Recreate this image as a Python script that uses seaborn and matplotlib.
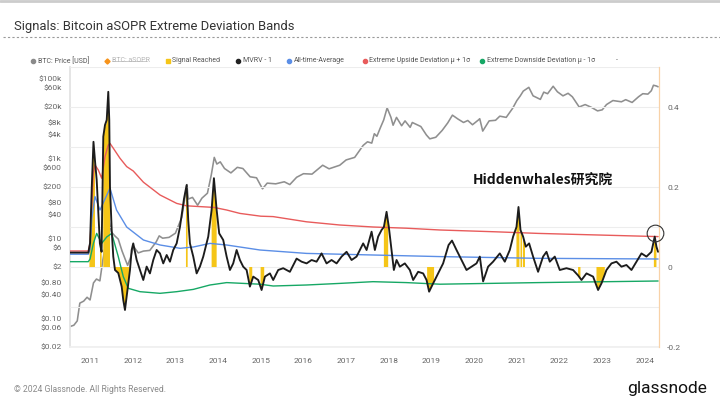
import numpy as np
import matplotlib
matplotlib.use("Agg")
import matplotlib.pyplot as plt
from matplotlib.lines import Line2D
import seaborn as sns

# ---- data (x in decimal years) ----
price_t = [2010.53, 2010.62, 2010.70, 2010.76, 2010.85, 2010.93, 2011.00, 2011.08, 2011.15, 2011.23,
           2011.30, 2011.37, 2011.44, 2011.50, 2011.58, 2011.66, 2011.75, 2011.83, 2011.88, 2011.95,
           2012.02, 2012.13, 2012.25, 2012.40, 2012.55, 2012.62, 2012.70, 2012.85, 2013.00, 2013.15,
           2013.27, 2013.30, 2013.40, 2013.52, 2013.62, 2013.75, 2013.84, 2013.91, 2013.97, 2014.05,
           2014.15, 2014.30, 2014.45, 2014.58, 2014.75, 2014.90, 2015.04, 2015.15, 2015.35, 2015.55,
           2015.68, 2015.84, 2016.00, 2016.20, 2016.45, 2016.60, 2016.85, 2017.00, 2017.20, 2017.40,
           2017.50, 2017.60, 2017.66, 2017.72, 2017.80, 2017.88, 2017.96, 2018.05, 2018.10, 2018.18,
           2018.30, 2018.38, 2018.50, 2018.55, 2018.75, 2018.88, 2018.96, 2019.10, 2019.25, 2019.38,
           2019.49, 2019.62, 2019.75, 2019.85, 2019.96, 2020.10, 2020.13, 2020.20, 2020.35, 2020.50,
           2020.60, 2020.75, 2020.90, 2021.00, 2021.08, 2021.15, 2021.28, 2021.38, 2021.45, 2021.55,
           2021.63, 2021.72, 2021.85, 2021.95, 2022.08, 2022.20, 2022.30, 2022.46, 2022.60, 2022.75,
           2022.89, 2023.00, 2023.10, 2023.25, 2023.45, 2023.55, 2023.70, 2023.85, 2023.95, 2024.07,
           2024.15, 2024.20, 2024.27, 2024.31]
price_usd = [0.065, 0.07, 0.09, 0.25, 0.28, 0.35, 0.30, 0.80, 1.0, 0.9,
             3, 8, 30, 15, 12, 10, 5, 3, 2.2, 3.5,
             6.5, 4.5, 5, 5.2, 8.5, 12, 10.5, 11, 14, 35,
             230, 100, 110, 70, 105, 140, 400, 1100, 750, 850,
             580, 450, 620, 580, 360, 340, 180, 250, 240, 270,
             230, 350, 430, 420, 700, 570, 700, 950, 1100, 2200,
             2700, 2500, 4300, 3700, 6000, 9500, 19000, 11000, 7000, 11000,
             6800, 9000, 6200, 8200, 6500, 4000, 3200, 3500, 5200, 8000,
             12500, 10000, 8200, 9200, 7200, 9500, 10200, 5000, 9000, 9300,
             11800, 11000, 18500, 29000, 38000, 50000, 62000, 38000, 35000, 31000,
             47000, 43000, 66000, 48000, 38000, 44000, 36000, 20000, 23000, 19500,
             16000, 17000, 23000, 29000, 27000, 30500, 26000, 36000, 43000, 42000,
             51000, 70000, 67000, 64000]

mvrv_t = [2010.53, 2010.96, 2011.00, 2011.04, 2011.08, 2011.12, 2011.155, 2011.19, 2011.23, 2011.27,
          2011.31, 2011.35, 2011.39, 2011.427, 2011.45, 2011.467, 2011.507, 2011.544, 2011.584, 2011.661,
          2011.741, 2011.778, 2011.818, 2011.858, 2011.895, 2011.935, 2011.975, 2012.012, 2012.092, 2012.169,
          2012.247, 2012.326, 2012.403, 2012.481, 2012.56, 2012.638, 2012.715, 2012.795, 2012.872, 2012.949,
          2013.029, 2013.106, 2013.2, 2013.263, 2013.3, 2013.34, 2013.418, 2013.497, 2013.574, 2013.652,
          2013.769, 2013.848, 2013.902, 2013.966, 2014.026, 2014.12, 2014.2, 2014.277, 2014.354, 2014.434,
          2014.511, 2014.588, 2014.668, 2014.745, 2014.823, 2014.94, 2015.019, 2015.097, 2015.214, 2015.291,
          2015.408, 2015.525, 2015.682, 2015.839, 2015.956, 2016.073, 2016.19, 2016.307, 2016.424, 2016.541,
          2016.658, 2016.776, 2016.893, 2017.01, 2017.127, 2017.244, 2017.399, 2017.479, 2017.596, 2017.673,
          2017.75, 2017.83, 2017.884, 2017.947, 2018.0, 2018.064, 2018.118, 2018.181, 2018.258, 2018.375,
          2018.492, 2018.57, 2018.687, 2018.804, 2018.884, 2018.944, 2019.038, 2019.155, 2019.272, 2019.40,
          2019.48, 2019.586, 2019.703, 2019.82, 2019.937, 2020.054, 2020.132, 2020.209, 2020.326, 2020.443,
          2020.6, 2020.717, 2020.834, 2020.912, 2020.991, 2021.038, 2021.085, 2021.146, 2021.209, 2021.287,
          2021.38, 2021.497, 2021.614, 2021.694, 2021.771, 2021.888, 2022.005, 2022.162, 2022.317, 2022.434,
          2022.514, 2022.631, 2022.786, 2022.903, 2022.982, 2023.099, 2023.216, 2023.333, 2023.45, 2023.567,
          2023.685, 2023.802, 2023.919, 2024.036, 2024.153, 2024.23, 2024.27, 2024.308]
mvrv_minus_1 = [0.036, 0.036, 0.06, 0.2, 0.313, 0.26, 0.218, 0.1425, 0.059, 0.038,
                0.326, 0.355, 0.3675, 0.438, 0.3675, 0.2, 0.0925, 0.026, -0.0075, -0.015,
                -0.049, -0.0825, -0.1075, -0.074, -0.041, -0.0075, 0.0425, 0.059, 0.0175, -0.0075,
                -0.0325, 0.001, -0.016, 0.0175, 0.0425, 0.034, 0.009, 0.03, 0.0133, 0.0425,
                0.059, 0.1, 0.17, 0.205, 0.1175, 0.059, 0.026, -0.016, 0.001, 0.026,
                0.076, 0.1425, 0.222, 0.1425, 0.084, 0.0675, 0.026, -0.0075, 0.009, 0.0425,
                0.0175, 0.0008, -0.0075, -0.049, -0.024, -0.0325, -0.0575, -0.024, -0.016, -0.0325,
                -0.0075, -0.003, -0.012, 0.021, 0.0133, 0.009, 0.0175, 0.0133, 0.034, 0.009,
                0.0175, 0.009, 0.026, 0.038, 0.0175, 0.026, 0.059, 0.0425, 0.0883, 0.0425,
                0.076, 0.0925, 0.1, 0.138, 0.1, 0.0425, -0.0075, 0.0175, 0.0008, 0.009,
                -0.0075, -0.0325, -0.012, -0.016, -0.0325, -0.0617, -0.041, -0.016, 0.009, 0.055,
                0.066, 0.0425, 0.0175, -0.0075, 0.0008, 0.009, 0.026, -0.036, 0.0008, 0.0133,
                0.034, 0.0133, 0.0425, 0.076, 0.1, 0.15, 0.0925, 0.076, 0.0508, 0.059,
                0.026, -0.012, 0.026, 0.038, 0.0133, 0.026, -0.0075, -0.003, -0.0075, -0.021,
                -0.0325, -0.016, -0.024, -0.0575, -0.041, -0.0075, 0.009, 0.0133, 0.0008, 0.005,
                -0.0075, 0.0133, 0.034, 0.026, 0.038, 0.076, 0.0508, 0.038]

upper_t = [2010.53, 2010.96, 2011.00, 2011.04, 2011.076, 2011.115, 2011.193, 2011.272, 2011.35, 2011.427,
           2011.467, 2011.544, 2011.70, 2011.858, 2012.012, 2012.25, 2012.64, 2013.03, 2013.26, 2013.57,
           2013.90, 2014.20, 2014.51, 2015.00, 2015.29, 2016.07, 2016.85, 2017.63, 2018.41, 2019.20,
           2020.50, 2021.50, 2024.31]
upper_band = [0.040, 0.040, 0.060, 0.150, 0.234, 0.255, 0.2425, 0.222, 0.276, 0.305,
              0.309, 0.297, 0.272, 0.251, 0.240, 0.212, 0.180, 0.159, 0.153, 0.151,
              0.149, 0.1425, 0.134, 0.127, 0.126, 0.113, 0.105, 0.100, 0.097, 0.0925,
              0.088, 0.084, 0.076]

avg_t = [2010.53, 2010.96, 2011.00, 2011.04, 2011.115, 2011.233, 2011.35, 2011.467, 2011.62, 2011.858,
         2012.25, 2012.64, 2013.11, 2013.42, 2013.81, 2014.20, 2014.98, 2016.07, 2017.63, 2019.20,
         2021.50, 2024.31]
avg_line = [0.032, 0.032, 0.045, 0.12, 0.176, 0.1425, 0.17, 0.197, 0.1425, 0.100,
            0.0675, 0.055, 0.0467, 0.050, 0.059, 0.055, 0.0425, 0.034, 0.030, 0.026,
            0.0217, 0.020]

lower_t = [2010.53, 2010.96, 2011.00, 2011.08, 2011.155, 2011.272, 2011.39, 2011.507, 2011.661, 2011.778,
           2011.895, 2012.169, 2012.638, 2013.029, 2013.418, 2013.808, 2014.2, 2014.98, 2015.29, 2016.07,
           2016.85, 2017.63, 2018.41, 2019.2, 2021.5, 2024.31]
lower_band = [0.0133, 0.0133, 0.02, 0.06, 0.084, 0.059, 0.075, 0.084, 0.026, -0.024,
              -0.0533, -0.0617, -0.0658, -0.0617, -0.056, -0.045, -0.039, -0.043, -0.0475, -0.045,
              -0.041, -0.0367, -0.039, -0.043, -0.039, -0.035]

# signal periods (None separates the periods)
signal_t = [2010.985, 2011.04, 2011.076, 2011.115, None,
            2011.233, 2011.272, None,
            2011.31, 2011.35, 2011.39, 2011.427, 2011.45, 2011.467, None,
            2011.584, 2011.661, 2011.741, 2011.778, 2011.818, 2011.858, 2011.895, 2011.918, None,
            2013.247, 2013.263, 2013.287, None,
            2013.848, 2013.902, 2013.966, None,
            2014.73, 2014.745, 2014.80, None,
            2014.996, 2015.019, 2015.08, None,
            2017.884, 2017.947, 2017.985, None,
            2018.897, 2018.944, 2019.0, 2019.06, None,
            2020.99, 2021.038, 2021.06, None,
            2021.085, 2021.12, None,
            2021.14, 2021.19, None,
            2022.434, 2022.49, None,
            2022.865, 2022.903, 2022.98, 2023.06, None,
            2024.21, 2024.23, 2024.27]
signal_v = [0.05, 0.2, 0.3, 0.25, None,
            0.059, 0.04, None,
            0.32, 0.35, 0.36, 0.43, 0.36, 0.2, None,
            -0.0075, -0.015, -0.049, -0.08, -0.105, -0.074, -0.041, -0.02, None,
            0.19, 0.205, 0.14, None,
            0.14, 0.22, 0.14, None,
            -0.04, -0.049, -0.03, None,
            -0.05, -0.0575, -0.03, None,
            0.1, 0.138, 0.11, None,
            -0.04, -0.06, -0.05, -0.035, None,
            0.1, 0.15, 0.12, None,
            0.09, 0.085, None,
            0.076, 0.06, None,
            -0.021, -0.03, None,
            -0.045, -0.0575, -0.041, -0.02, None,
            0.07, 0.076, 0.05]

years = list(range(2011, 2025))
price_ticks = [100000, 60000, 20000, 8000, 4000, 1000, 600, 200, 80, 40, 10, 6, 2, 0.8, 0.4, 0.1, 0.06, 0.02]
price_labels = ["$100k", "$60k", "$20k", "$8k", "$4k", "$1k", "$600", "$200", "$80", "$40",
                "$10", "$6", "$2", "$0.80", "$0.40", "$0.10", "$0.06", "$0.02"]
right_ticks = [-0.2, 0, 0.2, 0.4]
right_labels = ["-0.2", "0", "0.2", "0.4"]

legend_items = [("BTC: Price [USD]", "#8a8a8a", "o"), ("BTC: aSOPR", "#f7931a", "D"),
                ("Signal Reached", "#f5c518", "s"), ("MVRV - 1", "#222222", "o"),
                ("All-time-Average", "#5b8ee6", "o"), ("Extreme Upside Deviation μ + 1σ", "#e85b5b", "o"),
                ("Extreme Downside Deviation μ - 1σ", "#16a865", "o"), ("-", None, None)]

# ---- figure ----
sns.set_theme(style="white")
plt.rcParams["font.family"] = ["Roboto", "Noto Sans CJK SC", "DejaVu Sans"]

W, H = 720, 399
fig = plt.figure(figsize=(W / 100, H / 100), dpi=100)
fig.patch.set_facecolor("white")

ax = fig.add_axes([70 / W, 1 - 347 / H, 589 / W, 280 / H])
ax2 = ax.twinx()

sns.lineplot(x=price_t, y=price_usd, ax=ax, color="#8f8f8f", linewidth=1.15, estimator=None)
ax.set_yscale("log")
ax.set_ylim(0.02, 200000)
ax.set_xlim(2010.53, 2024.33)

sig_t = np.array([np.nan if v is None else v for v in signal_t], dtype=float)
sig_v = np.array([np.nan if v is None else v for v in signal_v], dtype=float)
ax2.fill_between(sig_t, 0, sig_v, color="#f5c518", linewidth=0, zorder=2)

sns.lineplot(x=upper_t, y=upper_band, ax=ax2, color="#e85b5b", linewidth=1.0, estimator=None)
sns.lineplot(x=avg_t, y=avg_line, ax=ax2, color="#5b8ee6", linewidth=1.0, estimator=None)
sns.lineplot(x=lower_t, y=lower_band, ax=ax2, color="#16a865", linewidth=1.0, estimator=None)
sns.lineplot(x=mvrv_t, y=mvrv_minus_1, ax=ax2, color="#1c1c1c", linewidth=1.35, estimator=None)
ax2.set_ylim(-0.2, 0.5)

# circle round the latest peak
recent = [i for i, t in enumerate(mvrv_t) if t > 2024]
ipk = max(recent, key=lambda i: mvrv_minus_1[i])
ax2.plot(mvrv_t[ipk], mvrv_minus_1[ipk] + 0.01, marker="o", ms=12, mfc="none", mec="#333333",
         mew=0.8, clip_on=False, zorder=5)

# axes styling
ax.set_yticks(price_ticks)
ax.set_yticklabels(price_labels)
ax.yaxis.set_minor_locator(matplotlib.ticker.NullLocator())
ax.set_xticks(years)
ax.set_xticklabels([str(y) for y in years])
ax2.set_yticks(right_ticks)
ax2.set_yticklabels(right_labels)
ax2.set_yticks(np.arange(-0.2, 0.51, 0.1), minor=True)
ax2.grid(which="minor", axis="y", color="#ededed", linewidth=0.8)
ax2.grid(which="major", axis="y", color="#ededed", linewidth=0.8)
for a in (ax, ax2):
    a.tick_params(axis="both", which="both", length=0, labelsize=6, labelcolor="#666666", pad=6)
    a.set_xlabel("")
    a.set_ylabel("")
    for s in a.spines.values():
        s.set_visible(False)
ax.tick_params(axis="x", pad=8)
ax.spines["left"].set_visible(True)
ax.spines["left"].set_color("#e2e2e2")
ax.spines["bottom"].set_visible(True)
ax.spines["bottom"].set_color("#f0f0f0")
ax2.spines["right"].set_visible(True)
ax2.spines["right"].set_color("#f8d2a8")
ax2.spines["right"].set_linewidth(0.9)

ax.text(0.803, 0.593, "Hiddenwhales研究院", transform=ax.transAxes, ha="center", va="center",
        fontsize=10, fontweight="bold", color="#111111", family=["Noto Sans CJK SC"])

# header / footer
fig.add_artist(Line2D([0, 1], [1 - 0.8 / H] * 2, color="#cccccc", linewidth=2))
fig.text(14 / W, 1 - 26.7 / H, "Signals: Bitcoin aSOPR Extreme Deviation Bands", fontsize=9.4,
         color="#333333", va="center", ha="left")
fig.add_artist(Line2D([3 / W, 1], [1 - 36.7 / H] * 2, color="#9a9a9a", linewidth=0.8, linestyle=(0, (2, 2))))

leg_x = [33, 107, 168, 238, 289, 365, 482, 616]
for (label, col, mk), x in zip(legend_items, leg_x):
    y = 1 - 61 / H
    if col is None:
        fig.text(x / W, y, label, fontsize=5, color="#666666", va="center", ha="left")
        continue
    fig.add_artist(Line2D([x / W], [y], marker=mk, ms=3 if mk != "D" else 2.6, color=col,
                          linestyle="none", transform=fig.transFigure))
    faded = label == "BTC: aSOPR"
    fig.text((x + 4.5) / W, y, label, fontsize=5, color="#b5b5b5" if faded else "#555555",
             va="center", ha="left")
    if faded:
        fig.add_artist(Line2D([(x + 4.5) / W, (x + 40) / W], [y, y], color="#b5b5b5", linewidth=0.5))

fig.text(14 / W, 1 - 389 / H, "© 2024 Glassnode. All Rights Reserved.", fontsize=6.2,
         color="#8a8a8a", va="center", ha="left")
fig.text(707 / W, 1 - 388 / H, "glassnode", fontsize=12.5, color="#111111", va="center", ha="right")

fig.savefig("out.png", dpi=100)
